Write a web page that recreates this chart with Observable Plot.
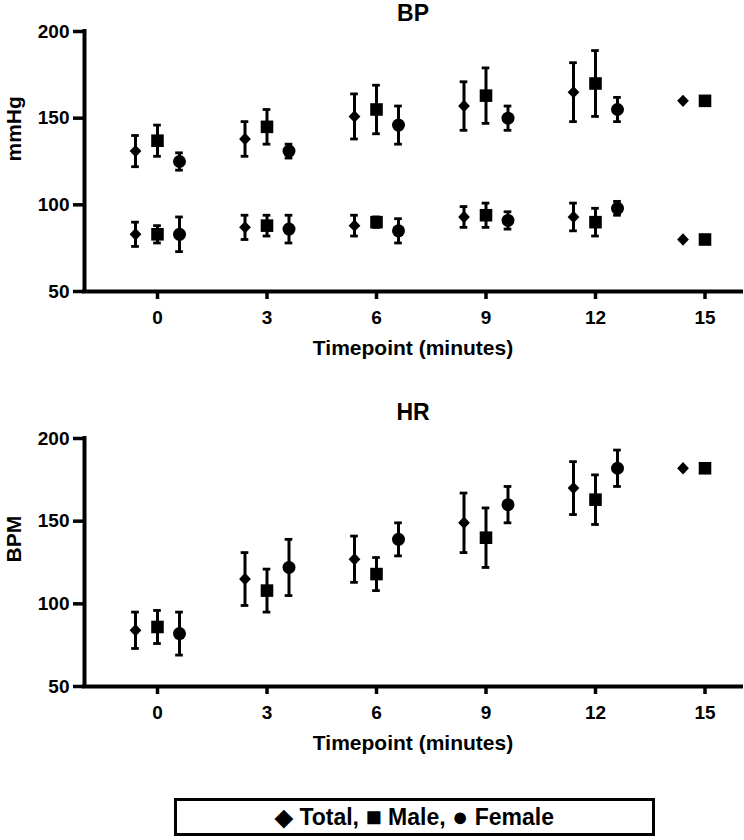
<!DOCTYPE html>
<html><head><meta charset="utf-8">
<script src="https://cdn.jsdelivr.net/npm/d3@7"></script>
<script src="https://cdn.jsdelivr.net/npm/@observablehq/plot@0.6"></script>
<style>
body{margin:0;background:#fff;font-family:"Liberation Sans",Arial,sans-serif;}
svg{display:block}
#legend{margin:8px 0 0 174px;width:475px;height:32px;border:3px solid #000;font-weight:bold;font-size:23px;line-height:32px;text-align:center;color:#000;white-space:nowrap;}
#legend .g{font-size:27px;line-height:32px;vertical-align:top;}
</style></head><body>
<div id="c1"></div><div id="c2"></div>
<div id="legend">◆ Total, <span class="g">■</span> Male, <span class="g">●</span> Female</div>
<script>
const times = [0, 3, 6, 9, 12, 15];
const xTicks = [0, 3, 6, 9, 12, 15];
const yTicks = [50, 100, 150, 200];
const xLabel = "Timepoint (minutes)";

// BP (systolic upper cluster, diastolic lower cluster)
const sysTotal = [131, 138, 151, 157, 165, 160];
const sysTotalErr = [9, 10, 13, 14, 17, null];
const sysMale = [137, 145, 155, 163, 170, 160];
const sysMaleErr = [9, 10, 14, 16, 19, null];
const sysFemale = [125, 131, 146, 150, 155];
const sysFemaleErr = [5, 4, 11, 7, 7];
const diaTotal = [83, 87, 88, 93, 93, 80];
const diaTotalErr = [7, 7, 6, 6, 8, null];
const diaMale = [83, 88, 90, 94, 90, 80];
const diaMaleErr = [5, 6, 3, 7, 8, null];
const diaFemale = [83, 86, 85, 91, 98];
const diaFemaleErr = [10, 8, 7, 5, 4];

// HR
const hrTotal = [84, 115, 127, 149, 170, 182];
const hrTotalErr = [11, 16, 14, 18, 16, null];
const hrMale = [86, 108, 118, 140, 163, 182];
const hrMaleErr = [10, 13, 10, 18, 15, null];
const hrFemale = [82, 122, 139, 160, 182];
const hrFemaleErr = [13, 17, 10, 11, 11];

const diamond = {draw(ctx, size) {
  const r = Math.sqrt(size / Math.PI), w = r * 0.95;
  ctx.moveTo(0, -r); ctx.lineTo(w, 0); ctx.lineTo(0, r); ctx.lineTo(-w, 0); ctx.closePath();
}};
const groupStyle = {
  Total: {dx: -22, symbol: diamond, r: 6.2},
  Male: {dx: 0, symbol: "square", r: 7.1},
  Female: {dx: 22, symbol: "circle", r: 6.5}
};

function rows(vals, errs) {
  return vals.map((v, i) => ({t: times[i], v, e: errs[i]}));
}

function chart({title, ylabel, series, height, marginTop, marginBottom, titleDy}) {
  const marks = [
    Plot.axisX({ticks: xTicks, tickSize: 8, tickPadding: 11, strokeWidth: 3.5, label: null}),
    Plot.axisY({ticks: yTicks, tickSize: 11, tickPadding: 4, strokeWidth: 3.5, label: null}),
    Plot.ruleX([-2], {strokeWidth: 4, strokeLinecap: "square"}),
    Plot.ruleY([50], {strokeWidth: 4, strokeLinecap: "square"})
  ];
  for (const s of series) {
    const g = groupStyle[s.group];
    const withErr = s.data.filter(d => d.e != null);
    marks.push(
      Plot.ruleX(withErr, {x: "t", y1: d => d.v - d.e, y2: d => d.v + d.e, dx: g.dx, strokeWidth: 3}),
      Plot.ruleY(withErr, {y: d => d.v + d.e, x1: d => d.t - 0.105, x2: d => d.t + 0.105, dx: g.dx, strokeWidth: 2.8}),
      Plot.ruleY(withErr, {y: d => d.v - d.e, x1: d => d.t - 0.105, x2: d => d.t + 0.105, dx: g.dx, strokeWidth: 2.8}),
      Plot.dot(s.data, {x: "t", y: "v", dx: g.dx, symbol: g.symbol, r: g.r, fill: "black", stroke: "none"})
    );
  }
  marks.push(
    Plot.text([title], {text: d => d, frameAnchor: "top", dy: titleDy, fontSize: 23, fontWeight: "bold", lineAnchor: "middle"}),
    Plot.text([xLabel], {text: d => d, frameAnchor: "bottom", dy: 56.5, fontSize: 21, fontWeight: "bold", lineAnchor: "middle"}),
    Plot.text([ylabel], {text: d => d, frameAnchor: "left", dx: -70.5, rotate: -90, fontSize: 21, fontWeight: "bold", lineAnchor: "middle"})
  );
  return Plot.plot({
    width: 744, height, marginLeft: 84, marginRight: 3, marginTop, marginBottom,
    x: {domain: [-2, 16], ticks: xTicks},
    y: {domain: [50, 200], ticks: yTicks},
    style: {fontFamily: "'Liberation Sans', Arial, sans-serif", fontSize: "19px", fontWeight: "bold", color: "black", background: "white", overflow: "visible"},
    marks
  });
}

document.getElementById("c1").append(chart({
  title: "BP", ylabel: "mmHg", height: 390, marginTop: 31, marginBottom: 99, titleDy: -18,
  series: [
    {group: "Total", data: rows(sysTotal, sysTotalErr)},
    {group: "Male", data: rows(sysMale, sysMaleErr)},
    {group: "Female", data: rows(sysFemale, sysFemaleErr)},
    {group: "Total", data: rows(diaTotal, diaTotalErr)},
    {group: "Male", data: rows(diaMale, diaMaleErr)},
    {group: "Female", data: rows(diaFemale, diaFemaleErr)}
  ]
}));
document.getElementById("c2").append(chart({
  title: "HR", ylabel: "BPM", height: 400, marginTop: 48, marginBottom: 104, titleDy: -26,
  series: [
    {group: "Total", data: rows(hrTotal, hrTotalErr)},
    {group: "Male", data: rows(hrMale, hrMaleErr)},
    {group: "Female", data: rows(hrFemale, hrFemaleErr)}
  ]
}));
</script>
</body></html>
